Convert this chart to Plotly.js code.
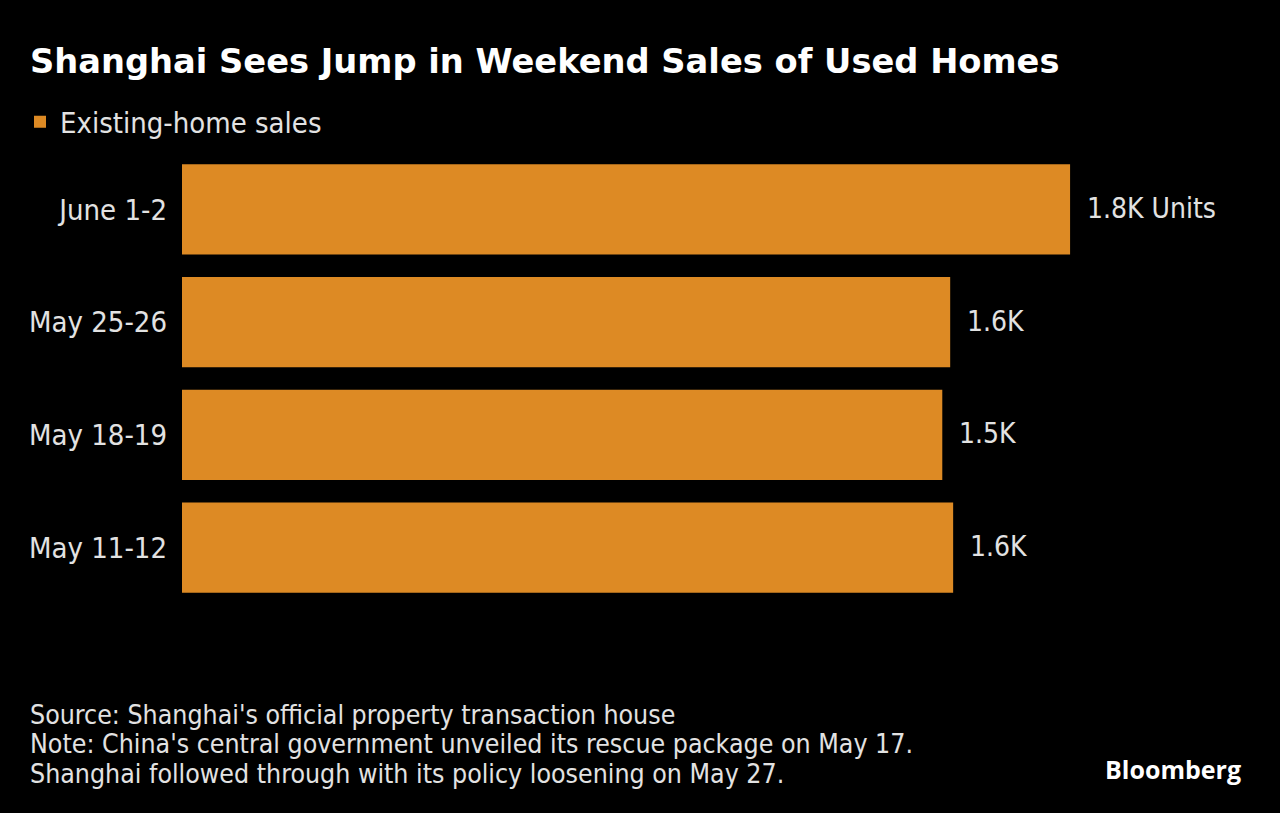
<!DOCTYPE html>
<html>
<head>
<meta charset="utf-8">
<script src="https://cdn.plot.ly/plotly-3.0.1.min.js"></script>
<style>
html,body{margin:0;padding:0;background:#000;}
#chart{width:1280px;height:813px;}
</style>
</head>
<body>
<div id="chart"></div>
<script>
const categories = ["June 1-2", "May 25-26", "May 18-19", "May 11-12"];
const sales = [1800, 1557, 1541, 1563];
const valueLabels = ["1.8K Units", "1.6K", "1.5K", "1.6K"];
const seriesName = "Existing-home sales";
const titleText = "Shanghai Sees Jump in Weekend Sales of Used Homes";
const footLines = [
  "Source: Shanghai's official property transaction house",
  "Note: China's central government unveiled its rescue package on May 17.",
  "Shanghai followed through with its policy loosening on May 27."
];

const condensed = "'DejaVu Sans Condensed', 'Liberation Sans Narrow', sans-serif";
const barColor = "#DD8A24";
const textColor = "#E2E2E2";

const trace = {
  type: "bar",
  orientation: "h",
  name: seriesName,
  y: categories,
  x: sales,
  marker: {color: barColor},
  hoverinfo: "skip",
  showlegend: true
};

const annotations = categories.map((c, i) => ({
  x: sales[i], y: c, xref: "x", yref: "y",
  text: valueLabels[i], showarrow: false,
  xanchor: "left", yanchor: "middle", xshift: 15, yshift: 1,
  font: {family: condensed, size: 28, color: textColor}
}));

footLines.forEach((t, i) => {
  const py = 714 + 29.5 * i;
  annotations.push({
    xref: "paper", yref: "paper",
    x: (28 - 182) / 1080, y: (604 - py) / 451,
    text: t, showarrow: false, xanchor: "left", yanchor: "middle",
    font: {family: condensed, size: 26.5, color: textColor}
  });
});
annotations.push({
  xref: "paper", yref: "paper",
  x: (1243 - 182) / 1080, y: (604 - 769) / 451,
  text: "<b>Bloomberg</b>", showarrow: false, xanchor: "right", yanchor: "middle",
  font: {family: "'Open Sans', Inter, sans-serif", size: 25, color: "#FFFFFF"}
});

const layout = {
  width: 1280, height: 813,
  paper_bgcolor: "#000000", plot_bgcolor: "#000000",
  margin: {l: 182, r: 18, t: 153, b: 209},
  bargap: 0.2,
  title: {
    text: "<b>" + titleText + "</b>",
    xref: "container", yref: "container",
    x: 30/1280, xanchor: "left",
    y: 1 - 61/813, yanchor: "middle",
    font: {family: "'DejaVu Sans', sans-serif", size: 33.7, color: "#FFFFFF"}
  },
  showlegend: true,
  legend: {
    orientation: "h",
    xref: "container", yref: "container",
    x: 20/1280, xanchor: "left",
    y: 1 - 122/813, yanchor: "middle",
    font: {family: condensed, size: 29, color: textColor},
    bgcolor: "rgba(0,0,0,0)",
    itemwidth: 30
  },
  xaxis: {
    range: [0, 2189],
    visible: false,
    showgrid: false, zeroline: false, fixedrange: true
  },
  yaxis: {
    autorange: "reversed",
    showgrid: false, zeroline: false, showline: false,
    ticks: "", ticklabelstandoff: 14,
    tickfont: {family: condensed, size: 29, color: textColor},
    fixedrange: true
  },
  annotations: annotations
};

Plotly.newPlot("chart", [trace], layout, {displayModeBar: false, staticPlot: true});
</script>
</body>
</html>
